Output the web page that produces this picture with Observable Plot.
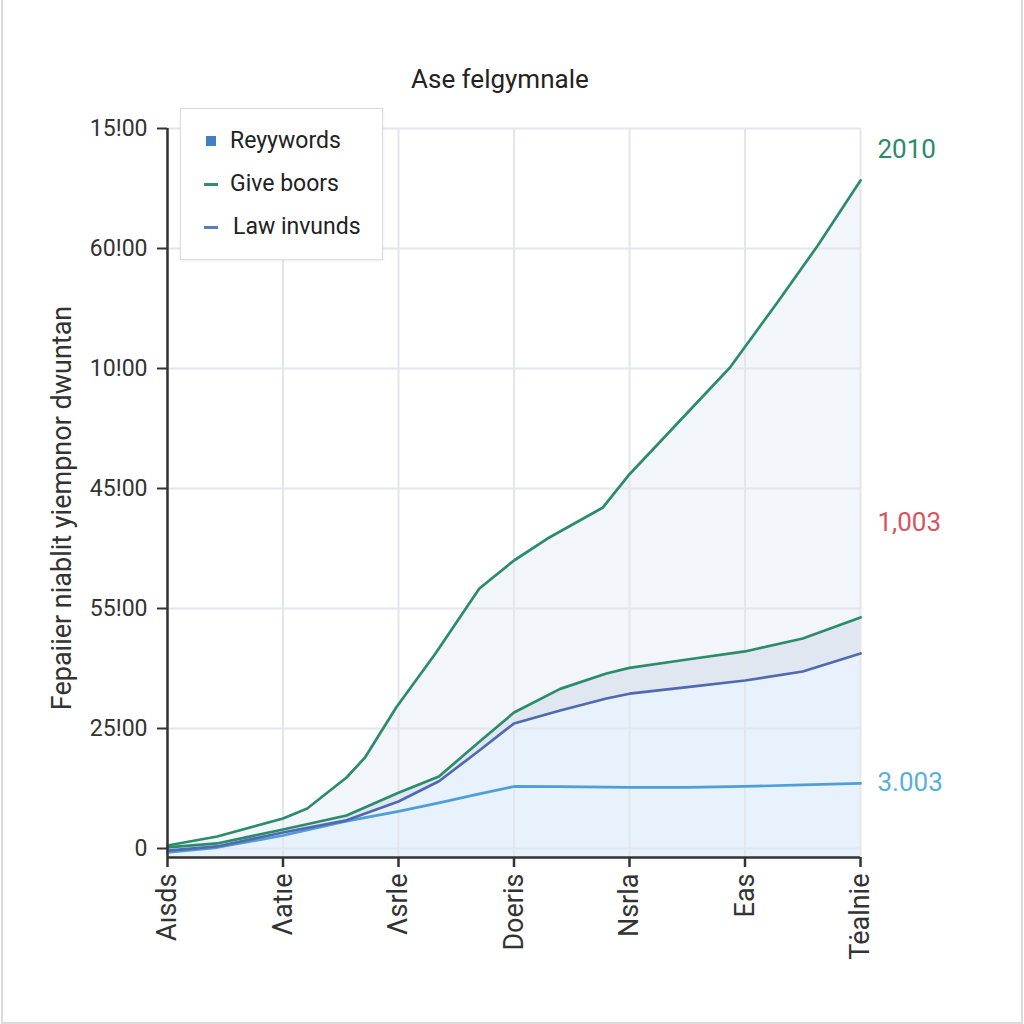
<!DOCTYPE html>
<html>
<head>
<meta charset="utf-8">
<script src="https://cdn.jsdelivr.net/npm/d3@7"></script>
<script src="https://cdn.jsdelivr.net/npm/@observablehq/plot@0.6"></script>
<style>
  html, body { margin: 0; padding: 0; background: #fff; }
  body { width: 1024px; height: 1024px; position: relative; overflow: hidden; font-family: Roboto, "Liberation Sans", sans-serif; }
  #frame { position: absolute; left: 1px; top: 0; width: 1018px; height: 1022px; border: 2px solid #dcdcdc; border-top: none; pointer-events: none; }
  #title { height: 100px; position: relative; }
  #title span { position: absolute; left: 411px; top: 66px; font-size: 26px; line-height: 1; color: #222; white-space: nowrap; }
  #legend { position: absolute; left: 180px; top: 108px; width: 201px; height: 150px; background: #fff; border: 1.5px solid #dcdcdc; box-shadow: 0 1px 3px rgba(0,0,0,0.08); }
  .item { position: absolute; left: 0; font-size: 23px; color: #222; height: 30px; line-height: 30px; white-space: nowrap; }
  .mk { position: absolute; }
</style>
</head>
<body>
<div id="title"><span id="titletext"></span></div>
<div id="chart"></div>
<div id="legend"></div>
<div id="frame"></div>
<script>
// ---- data ----
const categories = ["A\u0131sds", "\u039Bat\u0131e", "\u039Bsrle", "Doeris", "Nsrla", "Eas", "T\u0117alnie"];
const yTickValues = [0, 1000, 2000, 3000, 4000, 5000, 6000];
const yTickLabels = ["0", "25!00", "55!00", "45!00", "10!00", "60!00", "15!00"];
const yTitle = "Fepaiier niablit yiempnor dwuntan";
const titleText = "Ase felgymnale";

// upper "Give boors" curve
const topX = [0, 0.43, 1, 1.21, 1.55, 1.71, 1.98, 2.32, 2.7, 3, 3.29, 3.77, 3.99, 4.87, 5.28, 5.63, 6];
const topY = [25, 100, 250, 333, 592, 758, 1175, 1625, 2167, 2400, 2583, 2842, 3108, 4008, 4550, 5025, 5567];

// lower series on a shared x grid
const lowX      = [0, 0.43, 1, 1.55, 2, 2.35, 2.7, 3, 3.4, 3.8, 4, 4.5, 5, 5.5, 6];
const giveLow   = [10, 42, 158, 275, 465, 600, 890, 1133, 1330, 1458, 1505, 1575, 1642, 1750, 1925];
const lawInvunds= [-17, 17, 133, 235, 392, 560, 817, 1042, 1150, 1250, 1290, 1345, 1400, 1475, 1625];
const reyywords = [-33, 8, 108, 228, 310, 380, 455, 517, 515, 512, 510, 510, 517, 530, 542];

// right-hand annotations
const noteLabels = ["2010", "1,003", "3.003"];
const noteValues = [5825, 2717, 550];
const noteColors = ["#2b8a6a", "#d9535c", "#5aaed8"];

const legendNames = ["Reyywords", "Give boors", "Law invunds"];
const legendColors = ["#3f7fc2", "#2e9272", "#5a7db8"];

// ---- build ----
document.getElementById("titletext").textContent = titleText;
const yMin = -75, yMax = 6000;
const topData = topX.map((x, i) => ({x, y: topY[i]}));
const lower = lowX.map((x, i) => ({x, g: giveLow[i], d: lawInvunds[i], l: reyywords[i]}));
const notes = noteLabels.map((t, i) => ({x: categories.length - 1, y: noteValues[i], t, c: noteColors[i]}));

const green = "#2b8c6c", darkBlue = "#5069b0", lightBlue = "#4f9fd6";

const plot = Plot.plot({
  width: 1024,
  height: 924,
  marginLeft: 167,
  marginRight: 164,
  marginTop: 28,
  marginBottom: 167,
  style: {fontFamily: "Roboto, 'Liberation Sans', sans-serif", fontSize: "23px", color: "#333", background: "transparent"},
  x: {domain: [0, categories.length - 1], label: null},
  y: {domain: [yMin, yMax], label: null},
  marks: [
    Plot.areaY(topData, {x: "x", y1: yMin, y2: "y", fill: "#f2f5fa"}),
    Plot.areaY(lower, {x: "x", y1: yMin, y2: "d", fill: "#e7f2fc"}),
    Plot.areaY(lower, {x: "x", y1: "d", y2: "g", fill: "#e1e7f0"}),
    Plot.gridX(d3.range(categories.length), {stroke: "#e3e6eb", strokeOpacity: 1, strokeWidth: 2}),
    Plot.gridY(yTickValues, {stroke: "#e3e6eb", strokeOpacity: 1, strokeWidth: 2}),
    Plot.line(lower, {x: "x", y: "l", stroke: lightBlue, strokeWidth: 2.7}),
    Plot.line(lower, {x: "x", y: "d", stroke: darkBlue, strokeWidth: 2.7}),
    Plot.line(lower, {x: "x", y: "g", stroke: green, strokeWidth: 2.7}),
    Plot.line(topData, {x: "x", y: "y", stroke: green, strokeWidth: 2.7}),
    Plot.ruleY([yMin], {stroke: "#333", strokeWidth: 2.5}),
    Plot.ruleX([0], {stroke: "#333", strokeWidth: 2.5}),
    Plot.axisY({ticks: yTickValues, tickFormat: d => yTickLabels[yTickValues.indexOf(d)], tickSize: 10, tickPadding: 10, fontSize: 23, label: null, strokeWidth: 2}),
    Plot.axisX({ticks: d3.range(categories.length), tickFormat: d => categories[d], tickSize: 10, tickPadding: 6, tickRotate: -90, fontSize: 27, label: null, strokeWidth: 2.5}),
    Plot.text([yTitle], {frameAnchor: "left", textAnchor: "middle", dx: -105, dy: 15, rotate: -90, fontSize: 27, fill: "#333", style: "letter-spacing:2.2px"}),
    Plot.text(notes, {x: "x", y: "y", text: "t", fill: "c", dx: 17, textAnchor: "start", fontSize: 26})
  ]
});
document.getElementById("chart").appendChild(plot);

// legend
const leg = document.getElementById("legend");
const itemTops = [17, 60, 103];
legendNames.forEach((n, i) => {
  const it = document.createElement("div");
  it.className = "item";
  it.style.top = itemTops[i] + "px";
  it.style.left = (i === 2 ? 52 : 49) + "px";
  it.textContent = n;
  leg.appendChild(it);
  const mk = document.createElement("div");
  mk.className = "mk";
  mk.style.background = legendColors[i];
  if (i === 0) { mk.style.left = "25px"; mk.style.top = (itemTops[i] + 10) + "px"; mk.style.width = "10px"; mk.style.height = "10px"; }
  else { mk.style.left = "23px"; mk.style.top = (itemTops[i] + 14) + "px"; mk.style.width = "14px"; mk.style.height = "3px"; }
  leg.appendChild(mk);
});
</script>
</body>
</html>
